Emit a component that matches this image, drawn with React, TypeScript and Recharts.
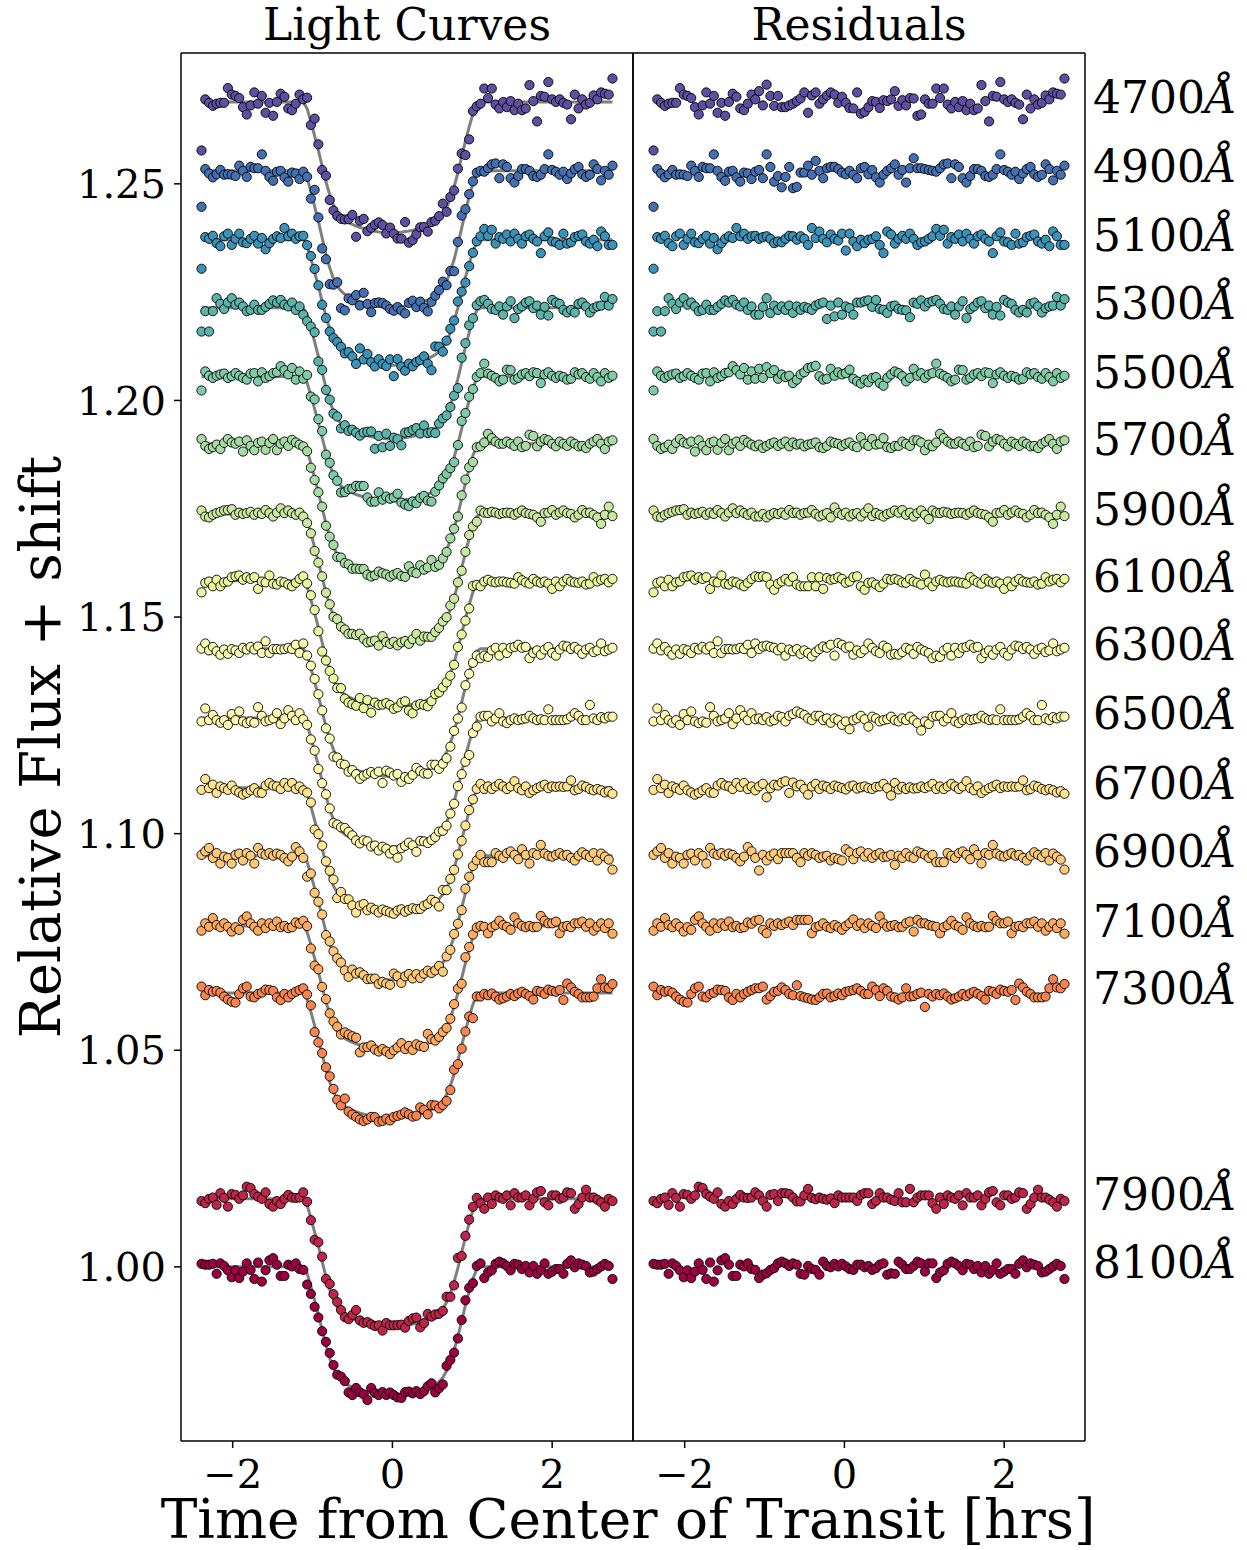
import React from "react";
import { ComposedChart, Line, Scatter, XAxis, YAxis } from "recharts";

// observation times [hrs from mid-transit]
const TIMES = [
  -2.39, -2.343, -2.296, -2.248, -2.201, -2.154, -2.107, -2.06, -2.012, -1.965,
  -1.918, -1.871, -1.824, -1.776, -1.729, -1.682, -1.635, -1.588, -1.54, -1.493,
  -1.446, -1.399, -1.352, -1.304, -1.257, -1.21, -1.163, -1.116, -1.068, -1.021,
  -0.974, -0.927, -0.88, -0.832, -0.785, -0.738, -0.691, -0.644, -0.596, -0.549,
  -0.502, -0.455, -0.408, -0.36, -0.313, -0.266, -0.219, -0.172, -0.124, -0.077,
  -0.03, 0.017, 0.064, 0.112, 0.159, 0.206, 0.253, 0.3, 0.348, 0.395,
  0.442, 0.489, 0.536, 0.584, 0.631, 0.678, 0.725, 0.772, 0.82, 0.867,
  0.914, 0.961, 1.008, 1.056, 1.103, 1.15, 1.197, 1.244, 1.292, 1.339,
  1.386, 1.433, 1.48, 1.528, 1.575, 1.622, 1.669, 1.716, 1.764, 1.811,
  1.858, 1.905, 1.952, 2.0, 2.047, 2.094, 2.141, 2.188, 2.236, 2.283,
  2.33, 2.377, 2.424, 2.472, 2.519, 2.566, 2.613, 2.66, 2.708, 2.755,
];

// transit shape (fraction of full depth)
const PROFILE = [
  0, 0, 0, 0, 0, 0, 0, 0, 0, 0,
  0, 0, 0, 0, 0, 0, 0, 0, 0, 0,
  0, 0, 0, 0, 0, 0, 0, 0, 0.05, 0.15,
  0.26, 0.37, 0.49, 0.61, 0.71, 0.79, 0.845, 0.88, 0.905, 0.922,
  0.936, 0.948, 0.958, 0.967, 0.975, 0.982, 0.988, 0.993, 0.997, 0.999,
  1, 1, 0.998, 0.995, 0.991, 0.986, 0.98, 0.973, 0.965, 0.956,
  0.945, 0.932, 0.915, 0.893, 0.86, 0.81, 0.74, 0.65, 0.54, 0.42,
  0.3, 0.19, 0.09, 0.02, 0, 0, 0, 0, 0, 0,
  0, 0, 0, 0, 0, 0, 0, 0, 0, 0,
  0, 0, 0, 0, 0, 0, 0, 0, 0, 0,
  0, 0, 0, 0, 0, 0, 0, 0, 0, 0,
];

const WAVELENGTHS = [4700, 4900, 5100, 5300, 5500, 5700, 5900, 6100, 6300, 6500, 6700, 6900, 7100, 7300, 7900, 8100];

const COLORS = [
  "#5e4fa2", "#4470b2", "#3b92b9", "#5ab4ab", "#7ecba5", "#a7dba4", "#cae99e", "#e9f69d",
  "#f8fcb4", "#fff6b0", "#fee491", "#fdc877", "#fdaa5f", "#f7844e", "#be254a", "#9e0142",
];

// out-of-transit level of each shifted curve
const BASELINES = [
  1.2689, 1.253, 1.2371, 1.2214, 1.2055, 1.19, 1.1738, 1.1584,
  1.1427, 1.1267, 1.1106, 1.0949, 1.0787, 1.0632, 1.0157, 1.0,
];

const DEPTHS = [
  0.0302, 0.0315, 0.029, 0.0303, 0.0287, 0.0302, 0.0298, 0.0291,
  0.0295, 0.0297, 0.0287, 0.0287, 0.0287, 0.0289, 0.0295, 0.0297,
];

// residuals, in units of 1e-4
const RES_4700 = [
  -112, 6, -2, -9, -4, -2, -2, 32, 17, 14, 9, -12, -29, -8, 22, -4, 14, -25, -2, -32,
  0, 19, 12, -15, -19, -4, 17, 6, 25, -8, 40, 14, -9, 14, -12, -12, -8, -4, 2, 8,
  22, -25, 15, 22, -4, 6, 15, 22, 17, -2, 12, -2, -14, -15, 22, -27, -23, -12, 2, 0,
  -14, 4, 2, 6, 25, -9, 4, -8, 9, 8, -32, -29, 6, -4, -4, 31, 9, 31, -6, -15,
  0, -12, 2, -19, -4, -19, -15, 39, 2, -45, 14, 12, 46, 6, 0, 6, -2, -6, -40, 17,
  -15, 6, -6, -2, 15, 6, 22, 19, 17, 54,
];
const RES_4900 = [
  -83, 4, -6, -15, -8, 2, -9, -8, -9, -12, 12, 0, -14, 9, 6, 6, 38, 0, -14, -23,
  -2, 0, -15, -25, -4, -6, -19, -2, 2, -17, 38, 9, -25, -12, -38, -14, 9, -40, -37, -4,
  -4, 12, -9, 23, 0, -17, 6, 9, 9, 4, -4, -8, 0, -9, -17, 6, 9, -8, 2, -15,
  -27, -9, 0, 6, 15, -9, 2, -27, 6, 29, 6, 6, 4, 2, 0, -2, 6, 15, 17, -17,
  15, 9, -17, -27, -12, 4, 4, 0, -12, -14, -9, 4, 38, 2, -2, -9, -2, -19, -6, 4,
  9, -8, -14, -9, 15, 4, -22, 0, -9, 12,
];
const RES_5100 = [
  -67, 6, 2, 9, -8, -15, 8, 14, -12, 2, 14, -6, -8, 2, 9, -9, 4, -22, -8, 2,
  8, 4, 27, 8, 14, 2, 8, 9, 2, 6, 8, 2, -8, -4, -6, 2, 9, 8, 0, 8,
  2, -12, 27, 4, 19, 2, -6, 12, 2, -2, 14, -25, 14, -4, -15, 0, -8, 0, 2, 8,
  -12, -31, 19, 12, -9, 2, 9, 2, 14, 2, -12, -6, -4, 2, 8, 25, 9, 23, -9, 6,
  2, 12, -4, 14, 2, -9, 8, 12, 2, -4, -31, 8, 17, -4, -6, -12, 14, -9, -6, 6,
  9, 12, -4, -9, 0, -15, 19, 8, -12, -12,
];
const RES_5300 = [
  -55, -8, -55, -8, 22, 9, -3, 12, 22, 7, 12, 3, -8, -5, 7, -5, -5, 2, 9, 17,
  12, 18, 7, 3, 12, -5, 3, -16, -16, 2, 22, -12, 5, -5, 3, -5, 5, -12, 3, -5,
  2, -1, -5, 5, 9, 12, -26, 5, -20, 12, -16, 3, -1, -16, 12, 12, 15, 17, 2, 18,
  -3, -5, -12, 3, 5, -3, -5, -6, -22, 12, 9, 17, 3, 12, 15, 18, 9, -3, -5, 3,
  -16, 3, 15, -24, -3, 3, 12, 15, -1, 5, -16, 2, -18, 18, 12, 9, -5, -11, -5, -11,
  9, 12, 3, -11, -1, 3, 5, 25, 5, 20,
];
const RES_5500 = [
  -32, 12, 2, -3, 2, 5, 7, -3, 1, 8, 2, -3, -7, 7, 8, -11, 10, -3, 1, 8,
  10, 24, 15, 5, 20, -7, 12, -5, 18, -3, 22, 8, 15, -5, 5, -1, 2, -15, -7, 5,
  10, 20, 22, 25, 1, -7, -5, 18, 2, 10, 5, 8, 16, -5, -11, -16, -7, -13, -3, -1,
  -15, -21, -3, 5, 12, 8, 1, -11, -3, 18, 2, 8, -3, 5, 8, 30, 7, 2, -3, -11,
  -7, 16, 15, -7, -3, 5, 8, 1, 10, 8, -15, 5, 10, 2, -3, 2, -1, -7, -5, 10,
  5, 8, -1, -5, 8, -1, -11, 8, -3, 2,
];
const RES_5700 = [
  11, -5, -12, -8, -2, -12, 2, 11, 3, 0, 5, -18, 8, -5, -15, 2, 5, -14, 2, 11,
  -15, 0, 5, -5, 9, 3, -2, -6, -2, -10, -5, 0, 3, -5, 0, 5, -6, 3, -2, 0,
  -6, -2, 0, 3, -8, -10, -5, 5, 2, 0, -5, 0, 3, -5, -8, 15, 0, -5, 11, -2,
  0, 13, -8, -10, -5, -5, 5, 0, -5, 8, 8, 3, -15, -2, -6, 3, 23, 13, 5, 0,
  0, 5, 0, -5, 5, -8, -5, 21, 18, -6, 5, 11, 8, 0, -6, 5, 0, -5, 5, 0,
  -6, -5, -10, 0, 5, 11, 0, -12, 5, 8,
];
const RES_5900 = [
  8, -6, -8, -2, 2, 5, 8, 9, 11, -2, 3, 0, 2, 5, -2, 3, 0, 9, 2, -6,
  3, 13, 2, 8, 2, -2, 3, -6, -6, 0, -8, -2, 2, 0, 3, -2, 9, 2, 3, -2,
  2, 3, 9, 0, -6, -2, 2, -8, 15, 2, -2, 3, -6, 0, 2, -6, 3, 13, -5, 2,
  -2, -6, 0, 3, 8, 3, 9, -2, 3, -6, 2, 8, -2, -12, 8, 3, 2, 5, 3, 0,
  2, 3, 2, -2, 3, 8, 2, 0, -2, -8, -18, 2, 3, 9, -2, 3, 8, 2, 0, -8,
  -2, 9, 2, 3, -2, -8, -23, -2, 17, -5,
];
const RES_6100 = [
  -27, -5, -2, -13, 2, -13, -4, -2, 8, 10, 12, 2, 8, 4, 8, -19, -2, -4, 12, -7,
  -9, -2, -4, -9, -13, -5, 4, 10, 8, 10, 8, -9, -21, -7, -2, 4, -2, 8, -9, -13,
  -13, -13, 8, -13, 8, -19, 6, 2, 4, 8, 4, -5, -2, 8, 10, -13, -21, -5, -4, -9,
  -15, -7, 4, 2, 4, 1, -4, -5, 4, -2, -5, -9, 14, -4, -13, -2, 2, -2, -4, -2,
  -2, -4, -5, -7, 8, 1, -4, -7, 4, -2, -5, -2, -7, -19, -2, -13, -2, 4, -2, -4,
  -5, -2, -9, -7, 8, -2, 2, 4, -4, 4,
];
const RES_6300 = [
  0, 12, -4, 4, -6, -14, -2, -12, -1, -4, -10, 2, -2, 4, -2, 5, -10, 17, -10, -1,
  -1, -2, -1, 2, -1, 9, -10, 12, -1, 5, 7, 4, 2, -4, 2, -16, -2, -6, -1, -12,
  -4, -10, -18, -8, -1, 5, 2, 9, -16, 13, 9, 2, 5, -14, -4, -10, -2, 12, 2, -6,
  -10, 7, 2, -14, -12, -14, -8, 2, -2, -12, 4, -2, -6, -10, -22, -16, -19, -4, 2, -16,
  2, -10, 2, 4, 9, 2, 4, -22, -10, -4, -14, -2, 4, -10, -16, -2, 7, 5, -1, 4,
  -2, -12, -2, 2, -8, -4, 12, -6, -2, 2,
];
const RES_6500 = [
  -8, 22, -5, 7, -5, -11, -5, -16, 9, -5, 15, -8, -12, -8, -11, 25, 5, -8, -5, -1,
  11, -14, -1, 18, 5, -5, 11, -3, -1, -5, 2, -8, -5, 5, 2, -8, 5, 9, 15, 11,
  7, -1, -5, 5, 5, -5, -1, -11, -1, -5, -16, -8, -26, -5, -1, 5, -3, -20, 3, -1,
  -8, -5, -3, 3, -5, -8, -1, -5, 3, -5, -12, -29, -8, -14, 3, 5, 5, -8, -1, 11,
  -8, -12, -5, -1, -5, -3, -1, 5, -1, -5, -3, -5, 20, -5, -5, -5, -5, -3, 3, 11,
  5, -5, -5, 30, -1, -5, 2, -1, 3, 3,
];
const RES_6700 = [
  -5, 20, -1, 7, -12, 3, -1, -5, 5, -6, -11, -16, -12, -6, -1, -11, -12, 5, 11, 5,
  3, -3, 11, 2, 11, -3, 3, -6, 3, 9, -22, -1, 7, 5, 12, 15, -12, 12, 3, 7,
  -3, -16, 3, 9, -3, 5, 2, -3, 5, 2, -1, -4, 3, 5, -2, 1, 3, -1, -3, 2,
  3, 9, -1, -18, 11, -4, 2, -3, 1, -2, -1, 3, -1, 3, 9, -3, 3, -3, 3, 9,
  3, -3, 3, 15, -1, -6, 3, -12, -6, -1, 3, 7, -1, 3, 2, 3, 2, 3, 17, -6,
  -3, 5, 2, -3, -6, -3, -6, -11, -8, -14,
];
const RES_6900 = [
  2, 10, 18, -5, 6, -18, -2, -5, -18, 2, 5, -11, 6, 0, -18, 18, 5, 2, 6, 0,
  5, 2, -5, -13, -2, 20, 10, -5, -34, 2, -11, 0, 5, -8, 6, 6, 6, 6, -5, -15,
  6, 0, 6, 2, -5, -2, 0, -11, -5, -8, -11, 15, 8, -8, 6, 10, -2, 6, -5, 2,
  6, -3, -2, 2, -21, 0, -5, 6, -2, -5, 10, 6, 2, -5, 2, -15, -15, -15, 6, 0,
  -5, 6, 10, 2, -8, 15, 2, -18, 6, 2, 25, 5, 0, -2, 2, 6, 0, 2, -5, -11,
  0, 8, 2, -3, 6, -11, 5, -2, -9, -32,
];
const RES_7100 = [
  -11, 6, -2, 18, 2, -3, 6, -2, -13, -3, -9, 14, 22, 6, -2, -11, 6, -5, 6, 0,
  10, -3, 0, -5, -3, 8, 5, 12, 14, -9, -17, 6, 0, 6, 2, 6, 10, 2, 14, 14,
  14, 14, -17, -3, 0, 6, -2, -5, 2, -3, -9, 0, 6, 15, 0, 6, -5, 6, 0, -5,
  22, 6, -2, 0, 2, -3, -2, 6, 10, -13, 14, 6, 6, 2, 0, -2, -17, -3, 2, 12,
  2, -2, -9, 20, 6, 0, -3, 0, -3, -2, 23, 12, 6, 6, 10, -17, -2, 0, -3, 6,
  6, 10, -2, 6, -11, -2, 6, -5, 6, -18,
];
const RES_7300 = [
  15, -5, 7, 3, 5, 1, -8, -15, -20, -22, -2, 11, 15, -8, -10, -2, 1, 8, 7, 5,
  -10, -16, -2, -10, -2, 3, 7, 11, 11, 15, -15, -7, 3, 5, 13, 7, -2, -5, 18, -7,
  -10, -12, -15, -16, -10, -2, -1, -10, -7, -1, -5, 3, 5, 7, 11, 5, -2, -2, 15, 7,
  -7, 11, 5, -8, -10, -15, -10, 11, -8, -7, -2, 1, -32, -2, -8, -2, -5, -1, -8, -15,
  -12, -8, -2, -7, -1, 3, -2, -7, -15, 5, 3, -2, 8, 5, 3, 7, -16, 22, 13, 3,
  -2, -10, -10, -10, -8, 11, 32, 13, 11, 21,
];
const RES_7900 = [
  -5, -10, 0, 3, -14, 13, 2, -18, 11, 9, 0, 8, 28, 25, 11, 5, 0, 15, -12, -18,
  -5, -12, 0, 9, 3, 2, 3, 15, 8, -5, -18, 9, 11, -5, 13, 13, 11, 3, -6, -6,
  8, 23, 2, -1, 3, 0, -2, 1, -10, 8, 3, 3, 3, 3, -5, 9, 13, 13, -12, -5,
  13, 3, 3, -2, -5, 13, -8, -8, 23, -8, 3, 8, 8, 8, -10, -23, 3, -12, 8, 3,
  0, 8, -15, 13, 3, 3, 8, -15, 0, 15, 18, -8, -15, 8, 8, 0, 3, 15, 13, -23,
  -12, 3, 21, 3, 3, -2, -8, -18, 0, -5,
];
const RES_8100 = [
  7, 5, 5, 7, -16, 8, 2, -8, -24, -8, -26, -11, 8, -7, -28, 10, -34, -8, 15, 20,
  5, -21, -21, 5, 1, 8, -5, -7, -26, -18, -15, -7, -3, 8, 12, 8, 2, 8, 5, -16,
  -18, 2, -5, -7, -18, 12, 2, -1, 7, 1, 7, 1, -5, -7, 5, 5, -1, 2, -7, -3,
  5, 8, -18, -15, -16, 12, 5, -5, -5, 2, 12, 8, -11, 8, 8, -26, -13, -8, 7, 12,
  8, 2, -8, 7, 5, -5, 2, -13, 2, -16, -7, 8, -16, -11, -5, -5, -16, 7, 15, -1,
  8, 5, 2, -13, -11, -5, 1, 7, 2, -28,
];

const RESIDUALS = [
  RES_4700, RES_4900, RES_5100, RES_5300, RES_5500, RES_5700, RES_5900, RES_6100,
  RES_6300, RES_6500, RES_6700, RES_6900, RES_7100, RES_7300, RES_7900, RES_8100,
];

const X_TICKS = [-2, 0, 2];
const Y_TICKS = [1.0, 1.05, 1.1, 1.15, 1.2, 1.25];

const X_DOMAIN: [number, number] = [-2.647, 3.012];
const Y_DOMAIN: [number, number] = [0.9598, 1.2802];

const FONT = '"DejaVu Serif", serif';
const FRAME = { stroke: "#000", strokeWidth: 1.5 };

// rows for the left panel: model (m) + data (f); right panel: shifted residuals (r)
const lightRows = TIMES.map((t, i) => {
  const row: Record<string, number> = { t };
  WAVELENGTHS.forEach((_, k) => {
    const model = BASELINES[k] - DEPTHS[k] * PROFILE[i];
    row["m" + k] = model;
    row["f" + k] = model + RESIDUALS[k][i] * 1e-4;
  });
  return row;
});

const residRows = TIMES.map((t, i) => {
  const row: Record<string, number> = { t };
  WAVELENGTHS.forEach((_, k) => {
    row["r" + k] = BASELINES[k] + RESIDUALS[k][i] * 1e-4;
  });
  return row;
});

const fmtX = (v: number) => (v < 0 ? "\u2212" + Math.abs(v) : String(v));

const dotShape = (color: string) => (props: any) => (
  <circle cx={props.cx} cy={props.cy} r={4.6} fill={color} stroke="#000" strokeWidth={0.9} />
);

function WaveTick(props: any) {
  const { x, y, payload, index } = props;
  let k = BASELINES.findIndex((b) => Math.abs(b - Number(payload?.value)) < 1e-6);
  if (k < 0) k = index;
  if (k == null || k < 0 || k >= WAVELENGTHS.length) return <g />;
  return (
    <g>
      <text x={x} y={y + 11} fontSize={44} fontFamily={FONT} fill="#000" textAnchor="start">
        {WAVELENGTHS[k]}
        <tspan fontStyle="italic">Å</tspan>
      </text>
    </g>
  );
}

const tickStyle = { fontSize: 40, fill: "#000", fontFamily: FONT };

export default function App() {
  return (
    <div
      style={{
        position: "absolute",
        left: 0,
        top: 0,
        width: 1247,
        height: 1550,
        background: "#fff",
        overflow: "hidden",
      }}
    >
      {/* Light curves */}
      <div style={{ position: "absolute", left: 0, top: 0 }}>
        <ComposedChart
          width={640}
          height={1550}
          data={lightRows}
          margin={{ top: 52, right: 6, bottom: 49, left: 0 }}
        >
          <XAxis
            dataKey="t"
            type="number"
            domain={X_DOMAIN}
            ticks={X_TICKS}
            tickFormatter={fmtX}
            height={60}
            tickSize={7}
            tickMargin={12}
            tick={tickStyle}
            axisLine={FRAME}
            tickLine={FRAME}
            allowDataOverflow
          />
          <XAxis
            xAxisId="top"
            orientation="top"
            type="number"
            domain={X_DOMAIN}
            height={1}
            tick={false}
            tickLine={false}
            axisLine={FRAME}
            allowDataOverflow
          />
          <YAxis
            type="number"
            domain={Y_DOMAIN}
            ticks={Y_TICKS}
            tickFormatter={(v: number) => v.toFixed(2)}
            width={181}
            tickSize={7}
            tickMargin={8}
            tick={tickStyle}
            axisLine={FRAME}
            tickLine={FRAME}
            interval={0}
            allowDataOverflow
          />
          <YAxis
            yAxisId="right"
            orientation="right"
            type="number"
            domain={Y_DOMAIN}
            width={1}
            tick={false}
            tickLine={false}
            axisLine={FRAME}
            allowDataOverflow
          />
          {WAVELENGTHS.map((w, k) => (
            <Line
              key={"m" + w}
              dataKey={"m" + k}
              type="linear"
              stroke="#7f7f7f"
              strokeWidth={3}
              dot={false}
              activeDot={false}
              isAnimationActive={false}
            />
          ))}
          {WAVELENGTHS.map((w, k) => (
            <Scatter
              key={"f" + w}
              dataKey={"f" + k}
              fill={COLORS[k]}
              shape={dotShape(COLORS[k])}
              isAnimationActive={false}
            />
          ))}
        </ComposedChart>
      </div>

      {/* Residuals */}
      <div style={{ position: "absolute", left: 632, top: 0 }}>
        <ComposedChart
          width={615}
          height={1550}
          data={residRows}
          margin={{ top: 52, right: 0, bottom: 49, left: 0 }}
        >
          <XAxis
            dataKey="t"
            type="number"
            domain={X_DOMAIN}
            ticks={X_TICKS}
            tickFormatter={fmtX}
            height={60}
            tickSize={7}
            tickMargin={12}
            tick={tickStyle}
            axisLine={FRAME}
            tickLine={FRAME}
            allowDataOverflow
          />
          <XAxis
            xAxisId="top"
            orientation="top"
            type="number"
            domain={X_DOMAIN}
            height={1}
            tick={false}
            tickLine={false}
            axisLine={FRAME}
            allowDataOverflow
          />
          <YAxis
            type="number"
            domain={Y_DOMAIN}
            width={1}
            tick={false}
            tickLine={false}
            axisLine={FRAME}
            allowDataOverflow
          />
          <YAxis
            yAxisId="wave"
            orientation="right"
            type="number"
            domain={Y_DOMAIN}
            ticks={BASELINES}
            interval={0}
            width={162}
            tickSize={0}
            tickMargin={8}
            tickLine={false}
            axisLine={FRAME}
            allowDataOverflow
            tick={(p: any) => <WaveTick {...p} />}
          />
          {WAVELENGTHS.map((w, k) => (
            <Scatter
              key={"r" + w}
              dataKey={"r" + k}
              fill={COLORS[k]}
              shape={dotShape(COLORS[k])}
              isAnimationActive={false}
            />
          ))}
        </ComposedChart>
      </div>

      <svg
        width={1247}
        height={1550}
        style={{ position: "absolute", left: 0, top: 0, pointerEvents: "none" }}
        fontFamily={FONT}
      >
        <text x={407} y={40} fontSize={44} textAnchor="middle" fill="#000">
          Light Curves
        </text>
        <text x={859} y={40} fontSize={44} textAnchor="middle" fill="#000">
          Residuals
        </text>
        <text x={628} y={1538} fontSize={55} textAnchor="middle" fill="#000">
          Time from Center of Transit [hrs]
        </text>
        <text
          transform="translate(60,747) rotate(-90)"
          fontSize={56}
          textAnchor="middle"
          fill="#000"
        >
          Relative Flux + shift
        </text>
      </svg>
    </div>
  );
}
